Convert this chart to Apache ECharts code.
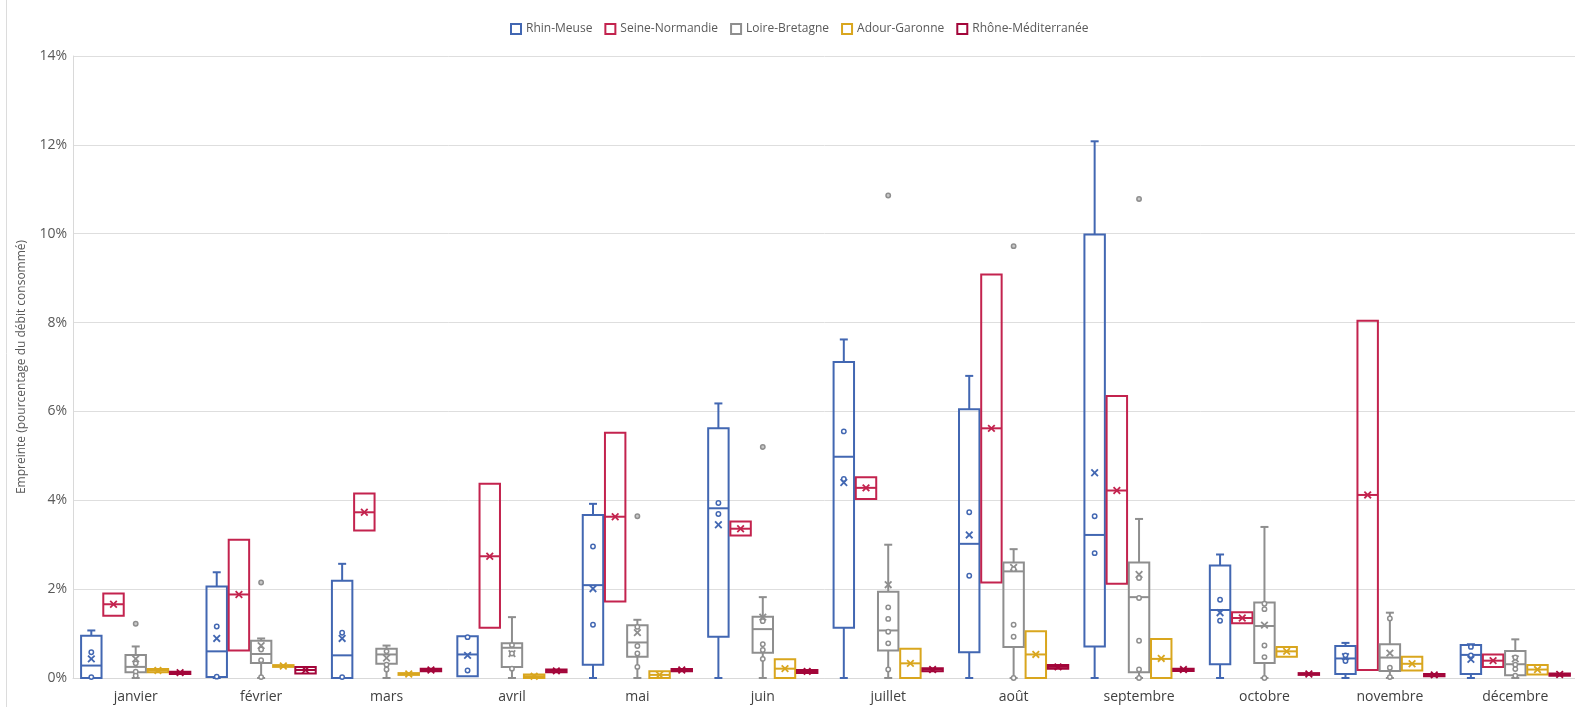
<!DOCTYPE html>
<html>
<head>
<meta charset="utf-8">
<script src="https://cdn.jsdelivr.net/npm/echarts@6/dist/echarts.min.js"></script>
<style>
html,body{margin:0;padding:0;background:#ffffff;}
#chart{width:1575px;height:707px;}
</style>
</head>
<body>
<div id="chart"></div>
<script>
const months = ['janvier','février','mars','avril','mai','juin','juillet','août','septembre','octobre','novembre','décembre'];
const regions = ['Rhin-Meuse','Seine-Normandie','Loire-Bretagne','Adour-Garonne','Rhône-Méditerranée'];
const yMin = 0, yMax = 14, yStep = 2;

// each row: [min, q1, median, q3, max, mean] in %
const rhinMeuseStats = [
  [0,0,0.28,0.95,1.07,0.43],[0,0.02,0.60,2.06,2.38,0.89],[0,0,0.51,2.19,2.57,0.89],[0.04,0.04,0.53,0.94,0.94,0.51],
  [0,0.30,2.09,3.67,3.92,2.01],[0,0.93,3.82,5.62,6.18,3.45],[0,1.13,4.98,7.11,7.62,4.40],[0,0.58,3.02,6.05,6.80,3.22],
  [0,0.71,3.22,9.98,12.08,4.62],[0,0.31,1.53,2.53,2.78,1.47],[0,0.09,0.44,0.72,0.79,0.48],[0,0.09,0.52,0.74,0.76,0.42]
];
const rhinMeusePoints = [
  [0,0.58],[0,0.02],[1,1.16],[1,0.03],[2,1.02],[2,0.02],[3,0.92],[3,0.17],[4,2.96],[4,1.20],[5,3.94],[5,3.69],
  [6,5.55],[6,4.48],[7,3.73],[7,2.30],[8,3.64],[8,2.81],[9,1.76],[9,1.29],[10,0.51],[10,0.38],[11,0.70],[11,0.51]
];
const rhinMeuseOutliers = [];

const seineNormandieStats = [
  [1.40,1.40,1.66,1.90,1.90,1.66],[0.62,0.62,1.88,3.11,3.11,1.88],[3.32,3.32,3.73,4.15,4.15,3.73],[1.13,1.13,2.74,4.37,4.37,2.74],
  [1.72,1.72,3.63,5.52,5.52,3.63],[3.21,3.21,3.36,3.52,3.52,3.36],[4.03,4.03,4.28,4.52,4.52,4.28],[2.15,2.15,5.62,9.08,9.08,5.62],
  [2.12,2.12,4.22,6.35,6.35,4.22],[1.23,1.23,1.35,1.48,1.48,1.35],[0.18,0.18,4.12,8.04,8.04,4.12],[0.25,0.25,0.39,0.53,0.53,0.39]
];
const seineNormandiePoints = [];
const seineNormandieOutliers = [];

const loireBretagneStats = [
  [0,0.13,0.25,0.52,0.71,0.43],[0,0.34,0.54,0.84,0.89,0.73],[0,0.32,0.53,0.66,0.73,0.45],[0,0.25,0.68,0.78,1.37,0.55],
  [0,0.48,0.80,1.19,1.31,1.02],[0,0.57,1.10,1.38,1.82,1.37],[0,0.62,1.07,1.94,3.00,2.10],[0,0.70,2.40,2.60,2.90,2.49],
  [0,0.13,1.82,2.60,3.58,2.33],[0,0.34,1.17,1.70,3.40,1.19],[0,0.16,0.46,0.76,1.47,0.56],[0,0.06,0.31,0.61,0.87,0.43]
];
const loireBretagnePoints = [
  [0,0.33],[0,0.14],[0,0.05],[1,0.64],[1,0.40],[1,0.02],[2,0.60],[2,0.30],[2,0.19],[3,0.74],[3,0.55],[3,0.21],
  [4,1.15],[4,0.72],[4,0.55],[4,0.25],[5,1.28],[5,0.76],[5,0.63],[5,0.43],[6,1.59],[6,1.33],[6,1.04],[6,0.78],[6,0.19],
  [7,2.45],[7,1.20],[7,0.93],[7,0.0],[8,2.25],[8,1.80],[8,0.84],[8,0.19],[8,0.0],[9,1.67],[9,1.55],[9,0.73],[9,0.47],[9,0.0],
  [10,1.34],[10,0.23],[10,0.02],[11,0.46],[11,0.30],[11,0.20],[11,0.05]
];
const loireBretagneOutliers = [[0,1.22],[1,2.15],[4,3.64],[5,5.20],[6,10.86],[7,9.72],[8,10.78]];

const adourGaronneStats = [
  [0.13,0.13,0.17,0.20,0.20,0.17],[0.25,0.25,0.27,0.29,0.29,0.27],[0.07,0.07,0.09,0.11,0.11,0.09],[0,0,0.04,0.08,0.08,0.04],
  [0,0,0.07,0.15,0.15,0.07],[0,0,0.21,0.42,0.42,0.21],[0,0,0.33,0.66,0.66,0.33],[0,0,0.53,1.05,1.05,0.53],
  [0,0,0.43,0.88,0.88,0.44],[0.48,0.48,0.60,0.70,0.70,0.60],[0.17,0.17,0.32,0.48,0.48,0.32],[0.08,0.08,0.19,0.29,0.29,0.19]
];
const adourGaronnePoints = [];
const adourGaronneOutliers = [];

const rhoneMediterraneeStats = [
  [0.09,0.09,0.12,0.14,0.14,0.12],[0.10,0.10,0.18,0.25,0.25,0.18],[0.15,0.15,0.18,0.21,0.21,0.18],[0.13,0.13,0.16,0.19,0.19,0.16],
  [0.15,0.15,0.18,0.20,0.20,0.18],[0.11,0.11,0.15,0.18,0.18,0.15],[0.15,0.15,0.19,0.22,0.22,0.19],[0.21,0.21,0.25,0.29,0.29,0.25],
  [0.16,0.16,0.19,0.21,0.21,0.19],[0.07,0.07,0.09,0.11,0.11,0.09],[0.04,0.04,0.07,0.09,0.09,0.07],[0.05,0.05,0.08,0.10,0.10,0.08]
];
const rhoneMediterraneePoints = [];
const rhoneMediterraneeOutliers = [];

const colors = ['#4267B2','#C3234E','#8E8E8E','#D9A61E','#A3063A'];
const statsList = [rhinMeuseStats, seineNormandieStats, loireBretagneStats, adourGaronneStats, rhoneMediterraneeStats];
const pointsList = [rhinMeusePoints, seineNormandiePoints, loireBretagnePoints, adourGaronnePoints, rhoneMediterraneePoints];
const outliersList = [rhinMeuseOutliers, seineNormandieOutliers, loireBretagneOutliers, adourGaronneOutliers, rhoneMediterraneeOutliers];
const offsets = [-0.354, -0.177, 0, 0.177, 0.354];
const boxFrac = 0.163;

function makeRender(si) {
  const color = colors[si];
  const pts = pointsList[si];
  const outs = outliersList[si];
  return function (params, api) {
    const m = api.value(0);
    const mn = api.value(1), q1 = api.value(2), md = api.value(3), q3 = api.value(4), mx = api.value(5), mean = api.value(6);
    const band = api.size([1, 0])[0];
    const cx = api.coord([m, 0])[0] + offsets[si] * band;
    const w = band * boxFrac;
    const Y = v => api.coord([m, v])[1];
    const st = {stroke: color, lineWidth: 2, fill: null};
    const ch = [];
    const cap = 4;
    if (mx > q3) {
      ch.push({type:'line', shape:{x1:cx, y1:Y(q3), x2:cx, y2:Y(mx)}, style:st});
      ch.push({type:'line', shape:{x1:cx-cap, y1:Y(mx), x2:cx+cap, y2:Y(mx)}, style:st});
    }
    if (mn < q1) {
      ch.push({type:'line', shape:{x1:cx, y1:Y(q1), x2:cx, y2:Y(mn)}, style:st});
      ch.push({type:'line', shape:{x1:cx-cap, y1:Y(mn), x2:cx+cap, y2:Y(mn)}, style:st});
    }
    const yt = Y(q3), yb = Y(q1);
    ch.push({type:'rect', shape:{x:cx-w/2, y:yt, width:w, height:Math.max(yb-yt, 0.5)}, style:{stroke:color, lineWidth:2, fill:'rgba(255,255,255,0)'}});
    ch.push({type:'line', shape:{x1:cx-w/2, y1:Y(md), x2:cx+w/2, y2:Y(md)}, style:st});
    const ym = Y(mean), s = 3.3;
    const xs = {stroke: color, lineWidth: 1.8};
    ch.push({type:'line', shape:{x1:cx-s, y1:ym-s, x2:cx+s, y2:ym+s}, style:xs});
    ch.push({type:'line', shape:{x1:cx-s, y1:ym+s, x2:cx+s, y2:ym-s}, style:xs});
    const dotStyle = {stroke: color, lineWidth: 1.5, fill: '#ffffff'};
    pts.forEach(p => {
      if (p[0] === m) ch.push({type:'circle', shape:{cx:cx, cy:Y(p[1]), r:2.2}, style:dotStyle});
    });
    outs.forEach(p => {
      if (p[0] === m) ch.push({type:'circle', shape:{cx:cx, cy:Y(p[1]), r:2.2}, style:{stroke:color, lineWidth:1.5, fill:'#c8c8c8'}});
    });
    return {type:'group', children: ch};
  };
}

const series = regions.map((name, si) => ({
  name: name,
  type: 'custom',
  renderItem: makeRender(si),
  itemStyle: {color: colors[si]},
  encode: {x: 0, y: [1,2,3,4,5,6]},
  data: statsList[si].map((r, i) => [i].concat(r))
}));

const chart = echarts.init(document.getElementById('chart'), null, {renderer: 'canvas'});
chart.setOption({
  animation: false,
  backgroundColor: '#ffffff',
  textStyle: {fontFamily: 'Open Sans'},
  legend: {
    top: 18,
    left: 505,
    itemWidth: 10,
    itemHeight: 10,
    itemGap: 12,
    textStyle: {color: '#595959', fontSize: 12, fontFamily: 'Open Sans'},
    data: regions.map((n, i) => ({name: n, icon: 'rect', itemStyle: {color: '#ffffff', borderColor: colors[i], borderWidth: 2}}))
  },
  grid: {left: 73, right: -3, top: 56, bottom: 29, containLabel: false, outerBoundsMode: 'none'},
  xAxis: {
    type: 'category',
    data: months,
    boundaryGap: true,
    axisTick: {show: false},
    axisLine: {show: true, lineStyle: {color: '#d9d9d9', width: 1}},
    axisLabel: {color: '#404040', fontSize: 14, margin: 12, fontFamily: 'Open Sans'},
    splitLine: {show: false}
  },
  yAxis: {
    type: 'value',
    min: yMin, max: yMax, interval: yStep,
    axisLine: {show: true, lineStyle: {color: '#d9d9d9', width: 1}},
    axisTick: {show: false},
    axisLabel: {formatter: '{value}%', color: '#595959', fontSize: 14, margin: 6, fontFamily: 'Open Sans'},
    splitLine: {show: true, lineStyle: {color: '#dedede', width: 1}},
    name: 'Empreinte (pourcentage du débit consommé)',
    nameLocation: 'middle',
    nameGap: 45,
    nameTextStyle: {color: '#595959', fontSize: 12, fontFamily: 'Open Sans'}
  },
  graphic: [{type:'line', shape:{x1:6.5, y1:0, x2:6.5, y2:707}, style:{stroke:'#dcdcdc', lineWidth:1}, silent:true}],
  series: series
});
</script>
</body>
</html>
